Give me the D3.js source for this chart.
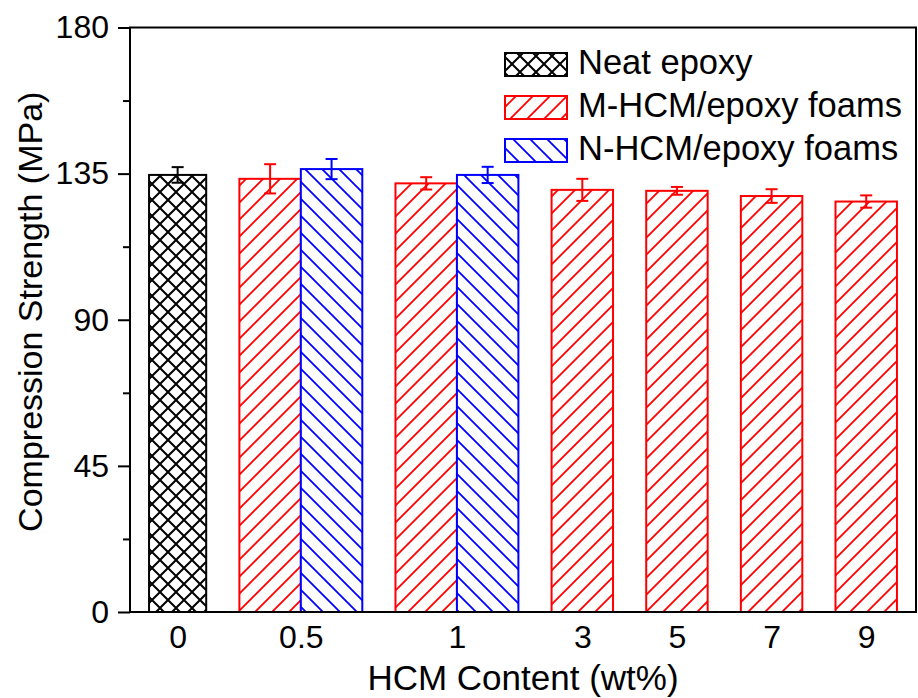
<!DOCTYPE html>
<html>
<head>
<meta charset="utf-8">
<script src="https://cdn.jsdelivr.net/npm/d3@7"></script>
<style>
  html, body { margin: 0; padding: 0; background: #fff; }
  svg { display: block; font-family: "Liberation Sans", Arial, sans-serif; }
</style>
</head>
<body>
<svg id="chart" width="918" height="698"></svg>
<script>
// ---- data ----
const categories = ["0", "0.5", "1", "3", "5", "7", "9"];
const seriesNames = ["Neat epoxy", "M-HCM/epoxy foams", "N-HCM/epoxy foams"];
const neatValues = [134.6, null, null, null, null, null, null];
const neatErrors = [2.4, null, null, null, null, null, null];
const mValues = [null, 133.4, 132.0, 130.0, 129.7, 128.1, 126.4];
const mErrors = [null, 4.5, 1.9, 3.4, 1.2, 2.1, 1.9];
const nValues = [null, 136.4, 134.6, null, null, null, null];
const nErrors = [null, 3.1, 2.5, null, null, null, null];
const yTicks = [0, 45, 90, 135, 180];
const yMinorTicks = [22.5, 67.5, 112.5, 157.5];

// ---- styling / layout ----
const colors = ["#000000", "#ff0000", "#0000ff"];
const patternIds = ["pat-neat", "pat-m", "pat-n"];
const barUnits = [0.93, 1, 1];
const plotLeft = 130, plotRight = 916, plotTop = 27.5, plotBottom = 612;
const gapUnit = 0.54, padUnit = 0.31;

const svg = d3.select("#chart");
const defs = svg.append("defs");

function hatch(id, color, s, kind, sw) {
  const p = defs.append("pattern").attr("id", id)
    .attr("patternUnits", "userSpaceOnUse").attr("width", s).attr("height", s);
  p.append("rect").attr("width", s).attr("height", s).attr("fill", "#fff");
  const fwd = `M0,${s} L${s},0 M${-s/4},${s/4} L${s/4},${-s/4} M${3*s/4},${5*s/4} L${5*s/4},${3*s/4}`;
  const back = `M0,0 L${s},${s} M${-s/4},${3*s/4} L${s/4},${5*s/4} M${3*s/4},${-s/4} L${5*s/4},${s/4}`;
  let d = kind === "fwd" ? fwd : kind === "back" ? back : fwd + " " + back;
  p.append("path").attr("d", d).attr("stroke", color).attr("stroke-width", sw).attr("fill", "none");
}
hatch(patternIds[0], colors[0], 16, "cross", 2);
hatch(patternIds[1], colors[1], 17, "fwd", 1.8);
hatch(patternIds[2], colors[2], 17, "back", 1.8);

// Build bar list from data arrays
const valueSets = [neatValues, mValues, nValues];
const errorSets = [neatErrors, mErrors, nErrors];
const bars = [];
const groups = [];
let u = padUnit;
categories.forEach((c, i) => {
  const start = u;
  valueSets.forEach((vals, s) => {
    if (vals[i] != null) {
      bars.push({cat: c, series: s, value: vals[i], err: errorSets[s][i], u0: u, u1: u + barUnits[s]});
      u += barUnits[s];
    }
  });
  groups.push({cat: c, center: (start + u) / 2});
  if (i < categories.length - 1) u += gapUnit;
});
const totalUnits = u + padUnit;

const x = d3.scaleLinear().domain([0, totalUnits]).range([plotLeft, plotRight]);
const y = d3.scaleLinear().domain([0, 180]).range([plotBottom, plotTop]);

// Bars
svg.append("g").selectAll("rect").data(bars).join("rect")
  .attr("x", d => x(d.u0)).attr("width", d => x(d.u1) - x(d.u0))
  .attr("y", d => y(d.value)).attr("height", d => y(0) - y(d.value))
  .attr("fill", d => `url(#${patternIds[d.series]})`)
  .attr("stroke", d => colors[d.series]).attr("stroke-width", 2);

// Error bars
const eb = svg.append("g").selectAll("g").data(bars).join("g")
  .attr("stroke", d => colors[d.series]).attr("stroke-width", 2);
const cx = d => x((d.u0 + d.u1) / 2);
eb.append("line")
  .attr("x1", cx).attr("x2", cx)
  .attr("y1", d => y(d.value - d.err)).attr("y2", d => y(d.value + d.err));
eb.append("line")
  .attr("x1", d => cx(d) - 6).attr("x2", d => cx(d) + 6)
  .attr("y1", d => y(d.value + d.err)).attr("y2", d => y(d.value + d.err));
eb.append("line")
  .attr("x1", d => cx(d) - 6).attr("x2", d => cx(d) + 6)
  .attr("y1", d => y(d.value - d.err)).attr("y2", d => y(d.value - d.err));

// Axes
const yAxis = svg.append("g").attr("transform", `translate(${plotLeft},0)`)
  .call(d3.axisLeft(y).tickValues(yTicks).tickFormat(d3.format("d")).tickSize(12).tickSizeOuter(0).tickPadding(9));
yAxis.select(".domain").remove();
yAxis.selectAll("line").attr("stroke-width", 2);
yAxis.selectAll("text").attr("font-size", 32).attr("fill", "#000").attr("font-family", "Liberation Sans, Arial, sans-serif");

const yMinor = svg.append("g").attr("transform", `translate(${plotLeft},0)`)
  .call(d3.axisLeft(y).tickValues(yMinorTicks).tickFormat("").tickSize(7).tickSizeOuter(0));
yMinor.select(".domain").remove();
yMinor.selectAll("line").attr("stroke-width", 2);

const xAxis = svg.append("g").attr("transform", `translate(0,${plotBottom})`)
  .call(d3.axisBottom(x).tickValues(groups.map(g => g.center))
    .tickFormat((d, i) => groups[i].cat).tickSize(0).tickPadding(13));
xAxis.select(".domain").remove();
xAxis.selectAll("text").attr("font-size", 32).attr("fill", "#000").attr("font-family", "Liberation Sans, Arial, sans-serif");

// Frame
svg.append("rect").attr("x", plotLeft).attr("y", plotTop).attr("width", plotRight - plotLeft).attr("height", plotBottom - plotTop)
  .attr("fill", "none").attr("stroke", "#000").attr("stroke-width", 2);

// Axis titles
svg.append("text").attr("x", (plotLeft + plotRight) / 2).attr("y", 690).attr("text-anchor", "middle")
  .attr("font-size", 35).text("HCM Content (wt%)");
svg.append("text").attr("transform", `translate(42,${(plotTop + plotBottom) / 2 - 8}) rotate(-90)`)
  .attr("text-anchor", "middle").attr("font-size", 34).text("Compression Strength (MPa)");

// Legend
const legend = svg.append("g");
seriesNames.forEach((name, i) => {
  const ly = 53 + i * 43;
  legend.append("rect").attr("x", 505).attr("y", ly).attr("width", 62).attr("height", 23)
    .attr("fill", `url(#${patternIds[i]})`).attr("stroke", colors[i]).attr("stroke-width", 2);
  legend.append("text").attr("x", 578).attr("y", ly + 21).attr("font-size", 34.5).attr("fill", "#000").text(name);
});
</script>
</body>
</html>
